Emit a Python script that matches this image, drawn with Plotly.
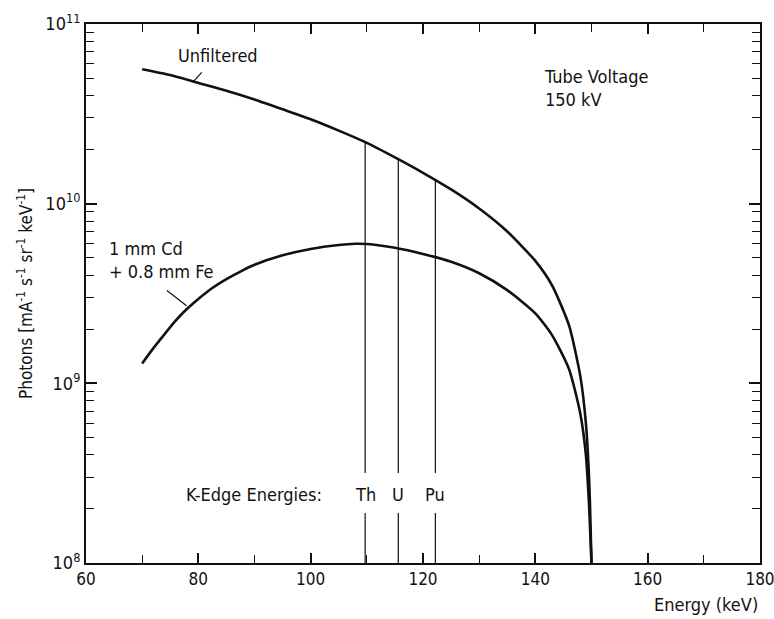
import plotly.graph_objects as go

# Photon spectra of a 150 kV X-ray tube
energy_unf = [70, 75, 80, 85, 90, 95, 100, 105, 110, 115, 120, 125, 130, 135,
              140, 143, 146, 148, 149, 149.6, 150]
photons_unf = [5.6e10, 5.2e10, 4.7e10, 4.25e10, 3.8e10, 3.35e10, 2.95e10, 2.55e10,
               2.18e10, 1.81e10, 1.486e10, 1.2e10, 9.4e9, 7.0e9, 4.8e9, 3.5e9, 2.1e9,
               1.1e9, 6e8, 2.8e8, 1e8]

energy_filt = [70, 72, 74, 76, 78, 80, 82, 85, 88, 90, 95, 100, 105, 108, 110, 115,
               120, 125, 130, 135, 140, 143, 146, 148, 149, 149.6, 150]
photons_filt = [1.29e9, 1.57e9, 1.88e9, 2.24e9, 2.6e9, 2.95e9, 3.31e9, 3.8e9, 4.27e9,
                4.57e9, 5.16e9, 5.6e9, 5.89e9, 5.98e9, 5.96e9, 5.68e9, 5.25e9, 4.75e9,
                4.1e9, 3.3e9, 2.45e9, 1.85e9, 1.2e9, 6.8e8, 4e8, 2e8, 1e8]

# K-edge energies and where each marker line meets the unfiltered spectrum
edge_names = ["Th", "U", "Pu"]
edge_energy = [109.7, 115.6, 122.2]
edge_top = [2.2e10, 1.76e10, 1.37e10]

x_ticks = [60, 80, 100, 120, 140, 160, 180]
y_ticks = [1e8, 1e9, 1e10, 1e11]
y_tick_text = ["10<sup>8</sup>", "10<sup>9</sup>", "10<sup>10</sup>", "10<sup>11</sup>"]

FONT = "DejaVu Sans Condensed"
INK = "#111111"

fig = go.Figure()

curve_line = dict(color=INK, width=2.6, shape="spline", smoothing=0.6)
fig.add_trace(go.Scatter(x=energy_unf, y=photons_unf, mode="lines",
                         line=curve_line, hoverinfo="skip"))
fig.add_trace(go.Scatter(x=energy_filt, y=photons_filt, mode="lines",
                         line=curve_line, hoverinfo="skip"))

# vertical K-edge markers, broken around the element labels
gap_hi, gap_lo = 3.17e8, 1.9e8
for e, top in zip(edge_energy, edge_top):
    fig.add_trace(go.Scatter(x=[e, e, None, e, e], y=[top, gap_hi, None, gap_lo, 1e8],
                             mode="lines", line=dict(color=INK, width=1.2),
                             hoverinfo="skip"))

# leader lines from the curve labels
fig.add_trace(go.Scatter(x=[80.6, 79.0], y=[10**10.731, 10**10.675], mode="lines",
                         line=dict(color=INK, width=1.2), hoverinfo="skip"))
fig.add_trace(go.Scatter(x=[74.4, 77.9], y=[10**9.517, 10**9.432], mode="lines",
                         line=dict(color=INK, width=1.2), hoverinfo="skip"))

txt = dict(family=FONT, size=18, color=INK)
fig.add_annotation(x=83.5, y=10.825, text="Unfiltered", showarrow=False, font=txt)
fig.add_annotation(x=141.1, y=10.775, text="Tube Voltage<br>150 kV", showarrow=False,
                   xanchor="left", yanchor="top", align="left", font=txt)
fig.add_annotation(x=63.8, y=9.82, text="1 mm Cd<br>+ 0.8 mm Fe", showarrow=False,
                   xanchor="left", yanchor="top", align="left", font=txt)
fig.add_annotation(x=89.9, y=8.384, text="K-Edge Energies:", showarrow=False, font=txt)
for name, e in zip(edge_names, edge_energy):
    fig.add_annotation(x=e, y=8.384, text=name, showarrow=False, font=txt)

# axis title set flush right under the last tick label
fig.add_annotation(xref="paper", yref="paper", x=1.0, y=0, xanchor="right",
                   yanchor="top", yshift=-29, text="Energy (keV)", showarrow=False,
                   font=txt)

fig.update_layout(
    width=774, height=619,
    margin=dict(l=86, r=14, t=24, b=56, autoexpand=False),
    paper_bgcolor="white", plot_bgcolor="white",
    showlegend=False,
    font=dict(family=FONT, size=18, color=INK),
)

fig.update_xaxes(
    range=[60, 180], tickvals=x_ticks, ticks="inside", ticklen=10, tickwidth=1.5,
    tickcolor=INK, showline=True, linewidth=2, linecolor=INK, mirror="ticks",
    showgrid=False, zeroline=False, tickfont=dict(family=FONT, size=17, color=INK),
    ticklabeloverflow="allow", automargin=False,
    minor=dict(tickvals=[70, 90, 110, 130, 150, 170], ticks="inside", ticklen=8,
               tickwidth=1.2, tickcolor=INK, showgrid=False),
)

minor_y = [m * 10**p for p in (8, 9, 10) for m in range(2, 10)]
fig.update_yaxes(
    type="log", range=[8, 11], tickvals=y_ticks, ticktext=y_tick_text,
    ticks="inside", ticklen=11, tickwidth=1.5, tickcolor=INK,
    showline=True, linewidth=2, linecolor=INK, mirror="ticks",
    showgrid=False, zeroline=False, tickfont=dict(family=FONT, size=18, color=INK),
    ticklabeloverflow="allow", automargin=False,
    minor=dict(tickvals=minor_y, ticks="inside", ticklen=8, tickwidth=1.2,
               tickcolor=INK, showgrid=False),
    title=dict(text="Photons [mA<sup>-1</sup> s<sup>-1</sup> sr<sup>-1</sup> keV<sup>-1</sup>]",
               font=dict(family=FONT, size=17, color=INK), standoff=8),
)

fig.write_html("out.html")
